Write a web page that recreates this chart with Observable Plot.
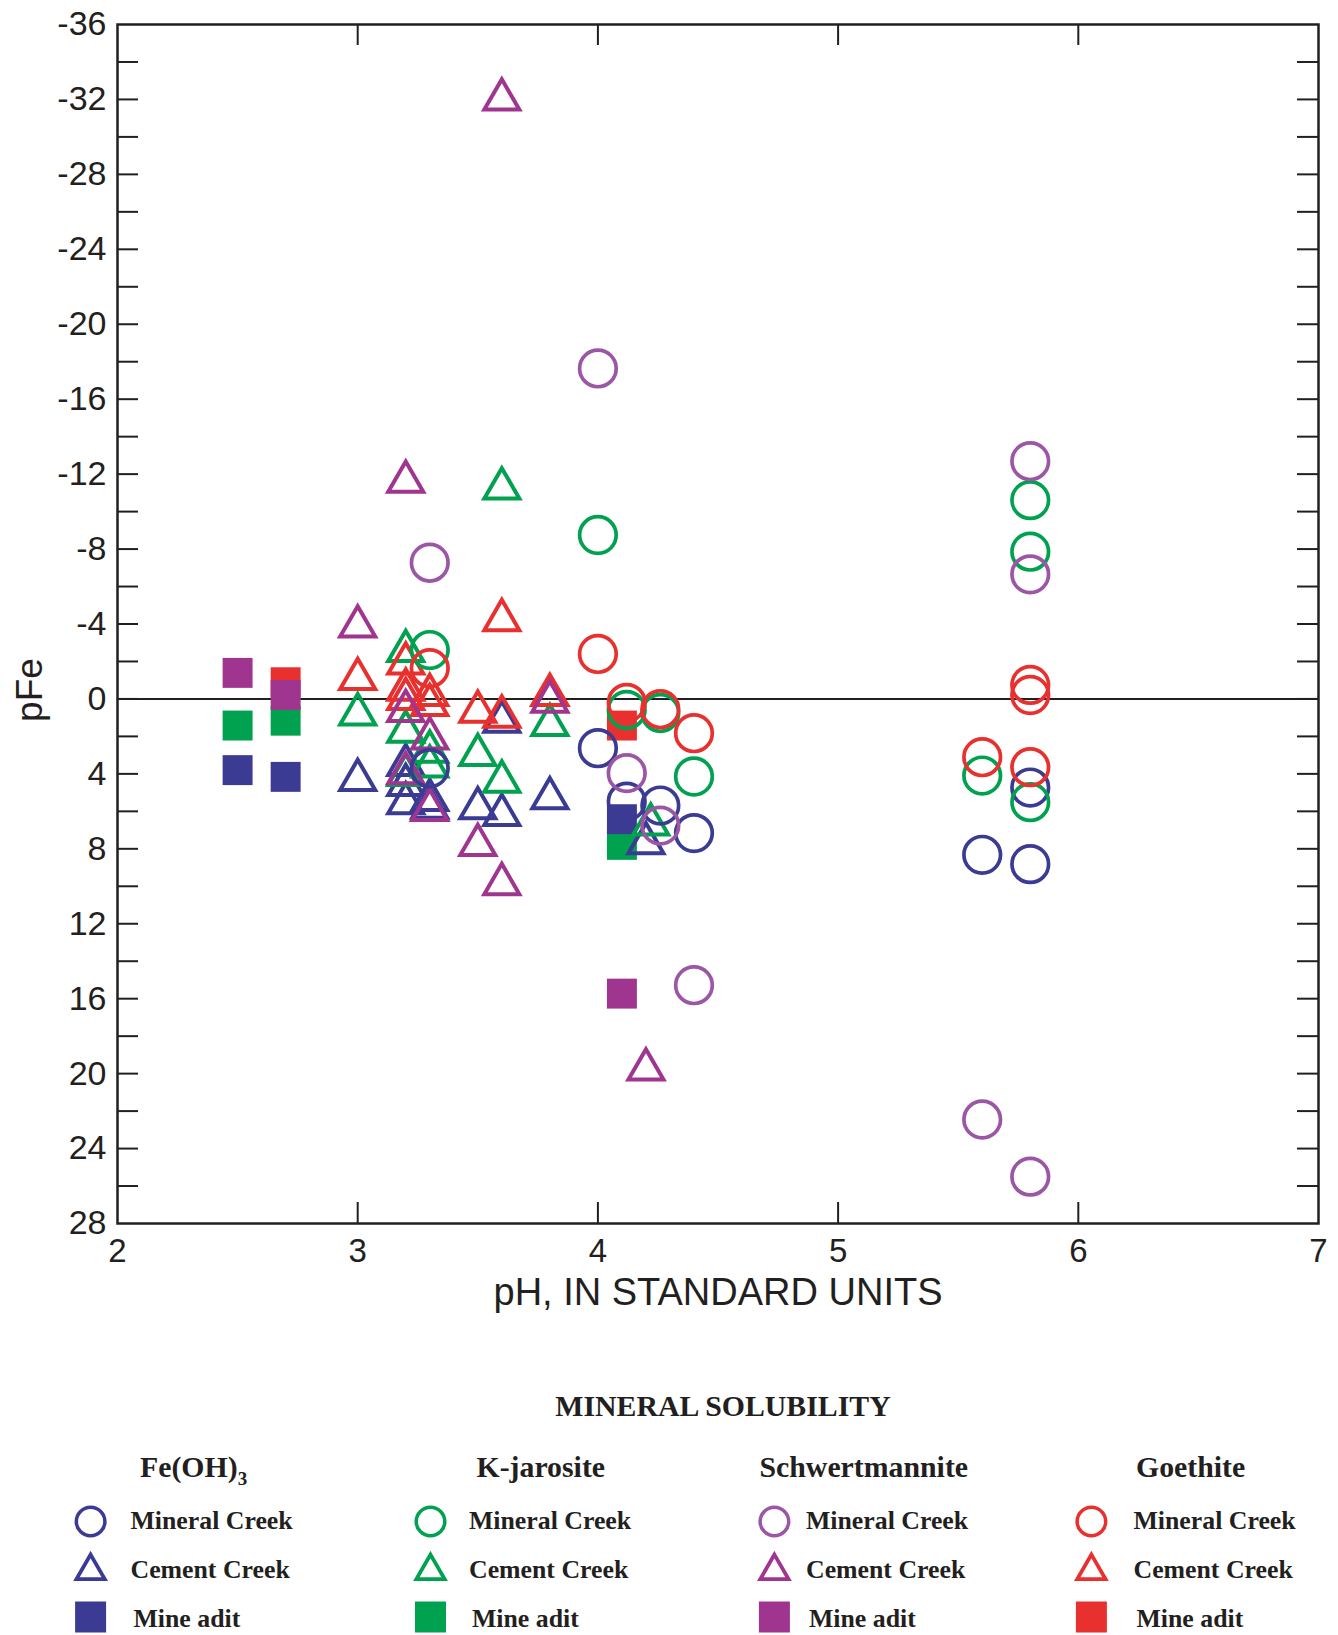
<!DOCTYPE html>
<html><head><meta charset="utf-8">
<script src="https://cdn.jsdelivr.net/npm/d3@7"></script>
<script src="https://cdn.jsdelivr.net/npm/@observablehq/plot@0.6"></script>
<style>body{margin:0;background:#fff} svg{display:block}</style>
</head><body><div id="chart"></div><div id="legend"></div><script>
// ---- data: [pH, pFe] ----
const feoh3MineralCreek = [[3.3,3.7],[4.0,2.63],[4.12,5.48],[4.26,5.69],[4.4,7.16],[5.6,8.32],[5.8,4.73],[5.8,8.82]];
const feoh3CementCreek = [[3.0,4.32],[3.2,3.52],[3.2,4.59],[3.2,5.56],[3.3,5.39],[3.3,5.8],[3.5,5.83],[3.6,1.21],[3.6,6.19],[3.8,5.3],[4.2,7.7]];
const feoh3MineAdit = [[2.5,3.8],[2.7,4.16],[4.1,6.42]];

const kjarMineralCreek = [[3.3,-2.61],[4.0,-8.75],[4.12,0.59],[4.26,0.75],[4.4,4.14],[5.6,4.09],[5.8,-10.61],[5.8,-7.86],[5.8,5.51]];
const kjarCementCreek = [[3.0,0.82],[3.2,-2.56],[3.2,1.74],[3.2,4.05],[3.3,2.81],[3.3,3.6],[3.5,2.99],[3.6,-11.24],[3.6,4.41],[3.8,1.39],[4.22,6.7]];
const kjarMineAdit = [[2.5,1.42],[2.7,1.16],[4.1,7.79]];

const schwMineralCreek = [[3.3,-7.27],[4.0,-17.64],[4.12,3.96],[4.26,6.76],[4.4,15.28],[5.6,22.45],[5.8,-12.69],[5.8,-6.65],[5.8,25.5]];
const schwCementCreek = [[3.0,-3.87],[3.2,-11.6],[3.2,0.64],[3.2,3.96],[3.3,2.1],[3.3,5.92],[3.5,7.79],[3.6,-32.0],[3.6,9.88],[3.8,0.14],[4.2,19.78]];
const schwMineAdit = [[2.5,-1.39],[2.7,-0.21],[4.1,15.73]];

const goetMineralCreek = [[3.3,-1.64],[4.0,-2.4],[4.12,0.21],[4.26,0.55],[4.4,1.83],[5.6,3.11],[5.8,-0.75],[5.8,-0.21],[5.8,3.64]];
const goetCementCreek = [[3.0,-1.07],[3.2,-1.9],[3.2,-0.5],[3.2,0.0],[3.3,-0.21],[3.3,0.32],[3.5,0.68],[3.6,-4.21],[3.6,0.94],[3.8,-0.21]];
const goetMineAdit = [[2.7,-0.89],[4.1,1.42]];

// ---- labels ----
const xTickLabels = [2,3,4,5,6,7];
const xInnerTicks = [3,4,5,6];
const yTickLabels = [-36,-32,-28,-24,-20,-16,-12,-8,-4,0,4,8,12,16,20,24,28];
const yMinorTicks = [-34,-32,-30,-28,-26,-24,-22,-20,-18,-16,-14,-12,-10,-8,-6,-4,-2,0,2,4,6,8,10,12,14,16,18,20,22,24,26];
const minerals = ["Fe(OH)", "K-jarosite", "Schwertmannite", "Goethite"];
const mineralSubs = ["3", "", "", ""];
const sites = ["Mineral Creek", "Cement Creek", "Mine adit"];
const legendTitle = "MINERAL SOLUBILITY";
const xLabel = "pH, IN STANDARD UNITS";
const yLabel = "pFe";

// ---- styles ----
const ink = "#231f20";
const cBlue = "#3b3b94", cGreen = "#00a14f", cPurple = "#a0358f", cPurpleLight = "#9b56a6", cRed = "#e8312f";
const W = 1338, H = 1330, ML = 117, MR = 20, MT = 24, MB = 107;
const plotW = W - ML - MR, plotH = H - MT - MB, tickLen = 21;

const circ = (data, color) => Plot.dot(data, {x: d => d[0], y: d => d[1], r: 18.3, stroke: color, strokeWidth: 3.7, fill: "none"});
const tri = (data, color) => Plot.dot(data, {x: d => d[0], y: d => d[1], symbol: "triangle", r: 13, stroke: color, strokeWidth: 4, fill: "none"});
const sq = (data, color) => Plot.dot(data, {x: d => d[0], y: d => d[1], symbol: "square", r: 16.9, fill: color, stroke: "none"});

const chart = Plot.plot({
  width: W, height: H, marginLeft: ML, marginRight: MR, marginTop: MT, marginBottom: MB,
  style: {fontFamily: "'Liberation Sans', Arial, sans-serif", fontSize: "34px", color: ink, background: "#fff"},
  x: {domain: [2, 7], label: null},
  y: {domain: [-36, 28], reverse: true, label: null},
  marks: [
    Plot.ruleY([0], {stroke: ink, strokeWidth: 2}),
    sq(kjarMineAdit, cGreen), sq(feoh3MineAdit, cBlue), sq(goetMineAdit, cRed), sq(schwMineAdit, cPurple),
    tri(feoh3CementCreek, cBlue), tri(kjarCementCreek, cGreen), tri(goetCementCreek, cRed), tri(schwCementCreek, cPurple),
    circ(feoh3MineralCreek, cBlue), circ(kjarMineralCreek, cGreen), circ(goetMineralCreek, cRed), circ(schwMineralCreek, cPurpleLight),
    Plot.tickY(yMinorTicks, {y: d => d, stroke: ink, strokeWidth: 2, insetRight: plotW - tickLen}),
    Plot.tickY(yMinorTicks, {y: d => d, stroke: ink, strokeWidth: 2, insetLeft: plotW - tickLen}),
    Plot.tickX(xInnerTicks, {x: d => d, stroke: ink, strokeWidth: 2, insetBottom: plotH - tickLen}),
    Plot.tickX(xInnerTicks, {x: d => d, stroke: ink, strokeWidth: 2, insetTop: plotH - tickLen}),
    Plot.frame({stroke: ink, strokeWidth: 2.5}),
    Plot.axisY({ticks: yTickLabels, tickSize: 0, tickPadding: 11, tickFormat: d => String(d), fontSize: 34, label: null}),
    Plot.axisX({ticks: xTickLabels, tickSize: 0, tickPadding: 15, tickFormat: d => String(d), fontSize: 33, label: null}),
    Plot.text([xLabel], {frameAnchor: "bottom", lineAnchor: "top", dy: 55, fontSize: 38, fill: ink}),
    Plot.text([yLabel], {y: () => 0, frameAnchor: "left", dx: -87, dy: 23, rotate: -90, fontSize: 37, fill: ink})
  ]
});
document.getElementById("chart").appendChild(chart);

// ---- legend ----
const LH = 1635 - H;
const colColors = [cBlue, cGreen, cPurple, cRed];
const circColors = [cBlue, cGreen, cPurpleLight, cRed];
const headerX = [140, 476.5, 759.5, 1136];
const symX = [90.6, 430.5, 774.4, 1091.4];
const textX = [130.5, 469, 806, 1133.5];
const top0 = H;
const svg = d3.select("#legend").append("svg").attr("width", W).attr("height", LH)
  .style("font-family", "'Liberation Serif', 'Times New Roman', serif").style("font-weight", "bold").attr("fill", ink);
svg.append("text").attr("x", 723).attr("y", 1416 - top0).attr("text-anchor", "middle").attr("font-size", 29.8).text(legendTitle);
minerals.forEach((m, i) => {
  const t = svg.append("text").attr("x", headerX[i]).attr("y", 1477 - top0).attr("font-size", 29.8);
  t.append("tspan").text(m);
  if (mineralSubs[i]) t.append("tspan").attr("font-size", 19).attr("dy", 8).text(mineralSubs[i]);
  svg.append("circle").attr("cx", symX[i]).attr("cy", 1521.5 - top0).attr("r", 14.3)
    .attr("fill", "none").attr("stroke", circColors[i]).attr("stroke-width", 3.5);
  svg.append("path").attr("d", d3.symbol(d3.symbolTriangle, Math.PI * 10.5 * 10.5)())
    .attr("transform", `translate(${symX[i]},${1571 - top0})`)
    .attr("fill", "none").attr("stroke", colColors[i]).attr("stroke-width", 3.8);
  svg.append("rect").attr("x", symX[i] - 15.5).attr("y", 1617 - top0 - 15.5).attr("width", 31).attr("height", 31)
    .attr("fill", colColors[i]);
  const rowY = [1529, 1578, 1627];
  sites.forEach((s, j) => {
    svg.append("text").attr("x", textX[i] + (j === 2 ? 3 : 0)).attr("y", rowY[j] - top0).attr("font-size", 25.8).text(s);
  });
});
</script></body></html>
